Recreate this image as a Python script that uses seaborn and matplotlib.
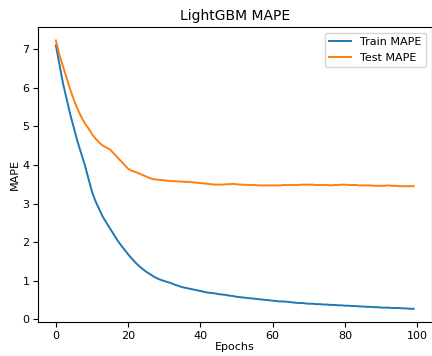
import numpy as np
import pandas as pd
import matplotlib
matplotlib.use("Agg")
import matplotlib.pyplot as plt
import seaborn as sns

# 每个 epoch 的 MAPE
train_mape = [7.10, 6.60, 6.10, 5.70, 5.30, 4.95, 4.60, 4.30, 4.00, 3.65,
              3.30, 3.05, 2.85, 2.65, 2.50, 2.35, 2.20, 2.05, 1.92, 1.80,
              1.68, 1.57, 1.47, 1.38, 1.30, 1.23, 1.17, 1.11, 1.06, 1.02,
              0.99, 0.96, 0.93, 0.89, 0.86, 0.83, 0.81, 0.79, 0.77, 0.75,
              0.73, 0.71, 0.69, 0.68, 0.67, 0.65, 0.64, 0.63, 0.61, 0.60,
              0.58, 0.57, 0.56, 0.55, 0.54, 0.53, 0.52, 0.51, 0.50, 0.49,
              0.48, 0.47, 0.46, 0.46, 0.45, 0.44, 0.43, 0.42, 0.42, 0.41,
              0.40, 0.40, 0.39, 0.39, 0.38, 0.38, 0.37, 0.37, 0.36, 0.36,
              0.35, 0.35, 0.34, 0.34, 0.33, 0.33, 0.32, 0.32, 0.31, 0.31,
              0.30, 0.30, 0.30, 0.29, 0.29, 0.29, 0.28, 0.28, 0.27, 0.27]

test_mape = [7.23, 6.85, 6.55, 6.25, 5.95, 5.68, 5.45, 5.25, 5.08, 4.95,
             4.80, 4.68, 4.58, 4.50, 4.45, 4.40, 4.30, 4.20, 4.10, 4.00,
             3.90, 3.85, 3.82, 3.78, 3.74, 3.70, 3.66, 3.63, 3.62, 3.61,
             3.60, 3.59, 3.58, 3.58, 3.57, 3.57, 3.56, 3.56, 3.55, 3.54,
             3.53, 3.52, 3.51, 3.50, 3.49, 3.49, 3.49, 3.50, 3.50, 3.51,
             3.50, 3.49, 3.49, 3.48, 3.48, 3.48, 3.47, 3.47, 3.47, 3.47,
             3.47, 3.47, 3.47, 3.48, 3.48, 3.48, 3.48, 3.48, 3.49, 3.49,
             3.49, 3.49, 3.48, 3.48, 3.48, 3.48, 3.47, 3.48, 3.48, 3.49,
             3.49, 3.48, 3.48, 3.48, 3.47, 3.47, 3.47, 3.47, 3.46, 3.46,
             3.46, 3.46, 3.47, 3.46, 3.46, 3.45, 3.45, 3.45, 3.45, 3.45]

epochs = list(range(len(train_mape)))

df = pd.DataFrame({
    "Epochs": epochs * 2,
    "MAPE": train_mape + test_mape,
    "series": ["Train MAPE"] * len(epochs) + ["Test MAPE"] * len(epochs),
})

plt.rcParams['font.family'] = ['DejaVu Sans']
fig = plt.figure(figsize=(4.32, 3.56), dpi=100)
ax = fig.add_axes([0.088, 0.095, 0.911, 0.829])

sns.lineplot(data=df, x="Epochs", y="MAPE", hue="series",
             palette=["#1f77b4", "#ff7f0e"], linewidth=1.4, ax=ax)

ax.set_title("LightGBM MAPE", fontsize=10, pad=5)
ax.set_xlabel("Epochs", fontsize=8, labelpad=1)
ax.set_ylabel("MAPE", fontsize=8, labelpad=2)
ax.tick_params(labelsize=8, pad=2.5)
ax.set_xticks([0, 20, 40, 60, 80, 100])
ax.legend(title=None, fontsize=8, loc="upper right")

fig.savefig("out.png", dpi=100)
